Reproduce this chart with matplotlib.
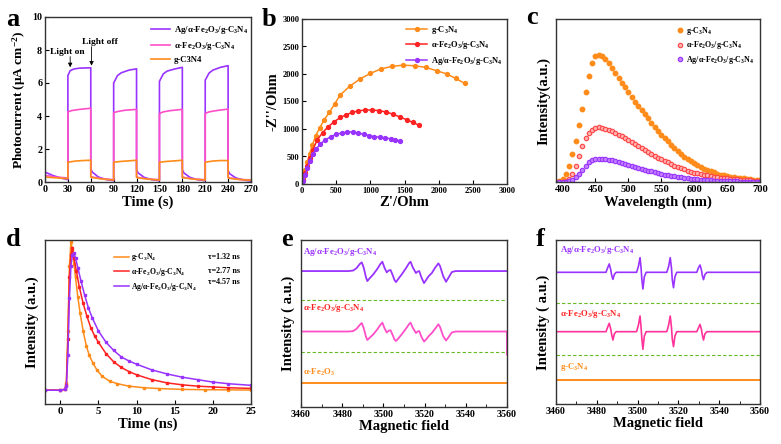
import matplotlib
matplotlib.use("Agg")
import matplotlib.pyplot as plt
from matplotlib.ticker import MultipleLocator

plt.rcParams['font.family'] = ['Liberation Serif', 'DejaVu Serif']
plt.rcParams['font.weight'] = 'bold'
plt.rcParams['axes.labelweight'] = 'bold'
plt.rcParams['mathtext.default'] = 'regular'
plt.rcParams['axes.linewidth'] = 1.0
plt.rcParams['axes.edgecolor'] = '#333333'

# ---------------- data ----------------
# (a) photocurrent
t_ag = [0, 10, 20, 30, 30, 33, 38, 45, 60, 60, 62, 70, 80, 90, 90, 95, 100, 110, 120, 120, 122, 130, 140, 150,
        150, 155, 160, 170, 180, 180, 182, 190, 200, 210, 210, 215, 220, 230, 240, 240, 242, 250, 260, 270]
i_ag = [0.6, 0.4, 0.25, 0.14, 6.45, 6.75, 6.85, 6.9, 6.92, 0.8, 0.6, 0.3, 0.15, 0.08, 6.0, 6.45, 6.62, 6.78, 6.86,
        0.75, 0.55, 0.28, 0.14, 0.08, 6.1, 6.55, 6.72, 6.85, 6.95, 0.75, 0.55, 0.28, 0.14, 0.08, 6.17, 6.6, 6.78,
        6.95, 7.05, 0.7, 0.5, 0.25, 0.12, 0.05]
t_fe = [0, 15, 30, 30, 35, 45, 60, 60, 62, 75, 90, 90, 95, 105, 120, 120, 122, 135, 150, 150, 155, 165, 180,
        180, 182, 195, 210, 210, 215, 225, 240, 240, 242, 255, 270]
i_fe = [0.4, 0.3, 0.24, 4.25, 4.33, 4.4, 4.47, 0.35, 0.3, 0.2, 0.14, 4.2, 4.27, 4.35, 4.4, 0.32, 0.28, 0.18, 0.14,
        4.15, 4.25, 4.33, 4.4, 0.32, 0.28, 0.18, 0.14, 4.15, 4.25, 4.33, 4.42, 0.3, 0.25, 0.16, 0.12]
t_gcn = [0, 15, 30, 30, 40, 50, 60, 60, 62, 75, 90, 90, 100, 110, 120, 120, 122, 135, 150, 150, 160, 170, 180,
         180, 182, 195, 210, 210, 220, 230, 240, 240, 242, 255, 270]
i_gcn = [0.3, 0.25, 0.2, 1.2, 1.27, 1.3, 1.32, 0.3, 0.27, 0.18, 0.12, 1.2, 1.25, 1.28, 1.32, 0.28, 0.25, 0.17,
         0.12, 1.2, 1.25, 1.28, 1.32, 0.28, 0.25, 0.17, 0.12, 1.2, 1.27, 1.3, 1.3, 0.25, 0.22, 0.15, 0.1]

# (b) Nyquist
zr_gcn = [0, 20, 50, 80, 110, 150, 200, 260, 320, 400, 480, 560, 700, 850, 1000, 1150, 1320, 1480, 1650, 1810,
          1970, 2120, 2250, 2380]
zi_gcn = [0, 100, 250, 400, 550, 700, 880, 1020, 1160, 1300, 1460, 1620, 1780, 1910, 2010, 2090, 2140, 2160, 2150,
          2120, 2060, 2000, 1920, 1830]
zr_fe = [0, 20, 50, 80, 120, 160, 220, 300, 380, 470, 560, 650, 730, 820, 920, 1020, 1120, 1230, 1330, 1430, 1530,
         1620, 1710]
zi_fe = [0, 80, 200, 330, 480, 620, 800, 930, 1040, 1130, 1210, 1260, 1300, 1330, 1345, 1345, 1335, 1310, 1270,
         1220, 1170, 1120, 1070]
zr_ag = [0, 20, 50, 80, 120, 160, 210, 270, 340, 420, 500, 580, 660, 740, 820, 900, 980, 1060, 1140, 1220, 1300,
         1360, 1430]
zi_ag = [0, 60, 170, 290, 420, 540, 640, 730, 800, 860, 900, 930, 945, 945, 930, 905, 880, 860, 850, 840, 820,
         800, 785]

# (c) PL spectra
wl = [395, 400, 405, 410, 415, 420, 425, 430, 435, 440, 445, 450, 455, 460, 465, 470, 475, 480, 485, 490, 495,
      500, 505, 510, 515, 520, 525, 530, 535, 540, 545, 550, 555, 560, 565, 570, 575, 580, 585, 590, 595, 600,
      605, 610, 615, 620, 625, 630, 635, 640, 645, 650, 655, 660, 665, 670, 675, 680, 685, 690, 695, 700]
pl_gcn = [0.005, 0.02, 0.05, 0.10, 0.17, 0.25, 0.35, 0.45, 0.55, 0.65, 0.73, 0.77, 0.78, 0.775, 0.755, 0.73,
          0.70, 0.67, 0.64, 0.61, 0.58, 0.55, 0.52, 0.49, 0.465, 0.44, 0.415, 0.39, 0.365, 0.34, 0.315, 0.29,
          0.27, 0.25, 0.23, 0.21, 0.19, 0.17, 0.155, 0.14, 0.127, 0.115, 0.102, 0.09, 0.082, 0.075, 0.067, 0.06,
          0.052, 0.045, 0.04, 0.035, 0.032, 0.03, 0.027, 0.025, 0.022, 0.02, 0.018, 0.015, 0.013, 0.012]
pl_fe = [0.0, 0.0, 0.005, 0.02, 0.05, 0.10, 0.16, 0.22, 0.27, 0.30, 0.32, 0.33, 0.335, 0.333, 0.327, 0.32,
         0.31, 0.30, 0.29, 0.28, 0.27, 0.26, 0.248, 0.235, 0.222, 0.21, 0.197, 0.185, 0.172, 0.16, 0.15, 0.14,
         0.13, 0.12, 0.11, 0.10, 0.092, 0.085, 0.077, 0.07, 0.064, 0.058, 0.053, 0.048, 0.044, 0.04, 0.036,
         0.033, 0.03, 0.027, 0.024, 0.022, 0.02, 0.018, 0.016, 0.014, 0.012, 0.011, 0.01, 0.009, 0.008, 0.007]
pl_ag = [0.0, 0.0, 0.0, 0.005, 0.015, 0.03, 0.05, 0.075, 0.10, 0.12, 0.133, 0.14, 0.143, 0.143, 0.141, 0.138,
         0.133, 0.128, 0.122, 0.117, 0.111, 0.105, 0.099, 0.093, 0.087, 0.082, 0.076, 0.07, 0.065, 0.06, 0.055,
         0.05, 0.046, 0.042, 0.038, 0.035, 0.031, 0.028, 0.025, 0.022, 0.02, 0.018, 0.016, 0.014, 0.012, 0.011,
         0.01, 0.009, 0.008, 0.007, 0.006, 0.005, 0.005, 0.004, 0.004, 0.003, 0.003, 0.002, 0.002, 0.002,
         0.001, 0.001]

# (d) TRPL decay
td_gcn = [-2, 0, 0.6, 0.8, 1.0, 1.2, 1.4, 1.6, 1.8, 2.0, 2.3, 2.6, 3.0, 3.4, 3.8, 4.3, 4.8, 5.5, 6.5, 7.5, 9, 11,
          13, 16, 19, 22, 25]
id_gcn = [0.085, 0.085, 0.09, 0.13, 0.45, 0.85, 1.0, 0.95, 0.86, 0.78, 0.66, 0.56, 0.45, 0.36, 0.3, 0.25, 0.21,
          0.17, 0.14, 0.125, 0.11, 0.1, 0.095, 0.09, 0.088, 0.087, 0.086]
td_fe = [-2, 0, 0.6, 0.8, 1.0, 1.2, 1.4, 1.6, 1.8, 2.1, 2.5, 3, 3.5, 4, 4.5, 5, 6, 7, 8, 9, 10, 12, 14, 16, 18,
         20, 22, 25]
id_fe = [0.085, 0.085, 0.09, 0.12, 0.4, 0.78, 0.92, 0.96, 0.9, 0.82, 0.72, 0.62, 0.54, 0.47, 0.42, 0.38, 0.31,
         0.26, 0.225, 0.2, 0.18, 0.15, 0.13, 0.118, 0.11, 0.105, 0.1, 0.096]
td_ag = [-2, 0, 0.6, 0.8, 1.0, 1.2, 1.4, 1.6, 1.8, 2.0, 2.3, 2.7, 3.2, 3.7, 4.2, 5, 6, 7, 8, 9, 10, 12, 14, 16,
         18, 20, 22, 25]
id_ag = [0.085, 0.085, 0.09, 0.11, 0.3, 0.65, 0.85, 0.92, 0.93, 0.9, 0.84, 0.76, 0.67, 0.59, 0.53, 0.45, 0.38,
         0.33, 0.29, 0.265, 0.245, 0.21, 0.185, 0.165, 0.15, 0.135, 0.125, 0.115]
taus = ['τ=1.32 ns', 'τ=2.77 ns', 'τ=4.57 ns']

# (e) EPR (DMPO-O2-)
be_ag = [3460, 3483, 3485.3, 3487, 3488.5, 3489.5, 3490.5, 3491.5, 3492.2, 3493.2, 3495, 3497, 3498.5, 3499.5,
         3500.5, 3501.6, 3502.5, 3503.5, 3504.5, 3505.4, 3506.1, 3507, 3509, 3511, 3512.5, 3513.2, 3514.2,
         3515.8, 3516.6, 3517.4, 3518.4, 3519.7, 3520.7, 3522, 3523.5, 3525, 3526.7, 3527.5, 3529, 3530.4,
         3531.5, 3533.2, 3535, 3560]
se_ag = [0, 0, 0.05, 0.3, 0.7, 0.87, 0.3, -0.6, -1.0, -0.75, -0.35, 0.2, 0.7, 0.93, 0.35, -0.13, 0.05, 0.1,
         -0.4, -0.9, -1.1, -0.85, -0.3, 0.3, 0.8, 0.93, 0.4, -0.2, -0.05, 0.0, -0.6, -1.2, -0.9, -0.5, -0.2, 0.3,
         0.77, 0.5, -0.5, -1.07, -0.7, -0.1, 0, 0]
be_fe = [3460, 3483, 3485.3, 3487, 3488.5, 3489.5, 3490.5, 3491.5, 3492.2, 3493.2, 3495, 3497, 3498.5, 3499.5,
         3500.5, 3501.6, 3502.5, 3503.5, 3504.5, 3505.4, 3506.1, 3507, 3509, 3511, 3512.5, 3513.2, 3514.2,
         3515.8, 3516.6, 3517.4, 3518.4, 3519.7, 3520.7, 3522, 3523.5, 3525, 3526.7, 3527.5, 3529, 3530.4,
         3531.5, 3533.2, 3535, 3559.8, 3560, 3560]
se_fe = [0, 0, 0.04, 0.28, 0.65, 0.85, 0.3, -0.5, -0.85, -0.65, -0.3, 0.2, 0.65, 0.88, 0.35, -0.1, 0.08, 0.12,
         -0.35, -0.8, -0.95, -0.75, -0.25, 0.3, 0.75, 0.88, 0.4, -0.15, 0.0, 0.05, -0.5, -1.0, -0.8, -0.45, -0.15,
         0.25, 0.72, 0.45, -0.45, -0.9, -0.6, -0.1, 0, 0, 0, -2.3]
be_fe2o3 = [3460, 3560]
se_fe2o3 = [0, 0]

# (f) EPR (DMPO-OH)
bf_ag = [3460, 3484.5, 3485.3, 3486.1, 3486.8, 3487.3, 3487.9, 3488.6, 3489.5, 3499.5, 3500.4, 3501.2, 3501.7,
         3502.1, 3502.6, 3503.3, 3504.2, 3514.3, 3515.2, 3516.0, 3516.6, 3517.0, 3517.6, 3518.3, 3519.2, 3529,
         3529.8, 3530.6, 3531.3, 3531.7, 3532.3, 3533, 3534, 3560]
sf_ag = [0, 0, 0.3, 0.57, 0.2, -0.2, -0.48, -0.15, 0, 0, 0.4, 1.0, 0.3, -0.5, -1.14, -0.3, 0, 0, 0.4, 1.0, 0.3,
         -0.5, -1.05, -0.3, 0, 0, 0.3, 0.5, 0.15, -0.2, -0.5, -0.15, 0, 0]
bf_fe = bf_ag
sf_fe = [0, 0, 0.3, 0.57, 0.2, -0.2, -0.57, -0.15, 0, 0, 0.45, 1.07, 0.3, -0.5, -1.2, -0.3, 0, 0, 0.45, 1.07,
         0.3, -0.5, -1.02, -0.3, 0, 0, 0.25, 0.5, 0.15, -0.2, -0.57, -0.15, 0, 0]
bf_gcn = [3460, 3560]
sf_gcn = [0, 0]

lab_ag = 'Ag/α-Fe$_2$O$_3$/g-C$_3$N$_4$'
lab_fe = 'α-Fe$_2$O$_3$/g-C$_3$N$_4$'
lab_gcn = 'g-C$_3$N$_4$'
lab_fe2o3 = 'α-Fe$_2$O$_3$'

# ---------------- style ----------------
PURPLE = '#9933FF'
PINK = '#FF4FC8'
ORANGE = '#FF8C1A'
RED = '#FF2222'
GREEN = '#66BB22'

W, H = 781, 444
fig = plt.figure(figsize=(W / 100, H / 100), dpi=100)


def pos(l, t, r, b):
    return [l / W, 1 - b / H, (r - l) / W, (b - t) / H]


def style(ax, fs=7.5):
    ax.tick_params(direction='in', labelsize=fs, width=0.8, length=3, pad=2)
    for lab in ax.get_xticklabels() + ax.get_yticklabels():
        lab.set_fontweight('bold')


def plabel(x, y, s):
    fig.text(x / W, 1 - y / H, s, fontsize=19, fontweight='bold', va='baseline', ha='left')


LFS = 10.5
ARW = dict(arrowstyle='-|>', color='black', lw=0.6, mutation_scale=6, shrinkA=0, shrinkB=0)

# (a)
ax = fig.add_axes(pos(45, 17, 251, 182))
ax.plot(t_ag, i_ag, color=PURPLE, lw=1.2, label=lab_ag)
ax.plot(t_fe, i_fe, color=PINK, lw=1.2, label=lab_fe)
ax.plot(t_gcn, i_gcn, color=ORANGE, lw=1.2, label='g-C3N4')
ax.set_xlim(0, 270)
ax.set_ylim(0, 10)
ax.set_xticks(range(0, 271, 30))
ax.set_yticks(range(0, 11, 2))
ax.set_xlabel('Time (s)', fontsize=LFS, labelpad=1)
ax.set_ylabel('Photocurrent (μA cm$^{-2}$)', fontsize=9.6, labelpad=3)
ax.legend(loc='upper right', bbox_to_anchor=(1.02, 1.0), frameon=False, fontsize=6.3, handlelength=2.2,
          handletextpad=0.4, labelspacing=0.45, borderaxespad=0.4)
ax.text(7, 7.9, 'Light on', fontsize=6.8, fontweight='bold', ha='left', va='center')
ax.annotate('', xy=(33, 6.95), xytext=(33, 7.6), arrowprops=ARW)
ax.text(48, 8.5, 'Light off', fontsize=6.8, fontweight='bold', ha='left', va='center')
ax.annotate('', xy=(61, 7.05), xytext=(61, 8.2), arrowprops=ARW)
style(ax, 7.2)
plabel(6, 26, 'a')

# (b)
ax = fig.add_axes(pos(302, 19, 507, 184))
ax.plot(zr_gcn, zi_gcn, '-o', color=ORANGE, lw=1.1, ms=2.8, label=lab_gcn)
ax.plot(zr_fe, zi_fe, '-o', color=RED, lw=1.1, ms=2.8, label=lab_fe)
ax.plot(zr_ag, zi_ag, '-o', color=PURPLE, lw=1.1, ms=2.8, label=lab_ag)
ax.set_xlim(0, 3000)
ax.set_ylim(0, 3000)
ax.set_xticks(range(0, 3001, 500))
ax.set_yticks(range(0, 3001, 500))
ax.set_xlabel("Z'/Ohm", fontsize=LFS, labelpad=1)
ax.set_ylabel("-Z''/Ohm", fontsize=LFS, labelpad=2)
ax.legend(loc='upper right', bbox_to_anchor=(1.0, 1.0), frameon=False, fontsize=6.0, handlelength=2.6,
          handletextpad=0.4, labelspacing=0.4, borderaxespad=0.2)
style(ax, 6.0)
plabel(262, 26, 'b')

# (c)
ax = fig.add_axes(pos(556, 19, 760, 182))
ax.plot(wl, pl_gcn, 'o', color=ORANGE, ms=3.2, mec=ORANGE, mfc=ORANGE, label=lab_gcn)
ax.plot(wl, pl_fe, 'o', color=RED, ms=3.2, mec='#FF4444', mfc='#FFB0B0', mew=0.8, label=lab_fe)
ax.plot(wl, pl_ag, 'o', color=PURPLE, ms=3.2, mec=PURPLE, mfc='#C080FF', mew=0.8, label=lab_ag)
ax.set_xlim(390, 700)
ax.set_ylim(0, 1)
ax.set_xticks(range(400, 701, 50))
ax.set_yticks([])
ax.set_xlabel('Wavelength (nm)', fontsize=LFS, labelpad=1)
ax.set_ylabel('Intensity(a.u.)', fontsize=LFS, labelpad=4)
ax.legend(loc='upper right', bbox_to_anchor=(1.0, 1.0), frameon=False, fontsize=5.8, handlelength=1.0,
          handletextpad=0.3, labelspacing=0.35, borderaxespad=0.3, markerscale=1.0)
style(ax, 7.6)
plabel(526, 24, 'c')

# (d)
ax = fig.add_axes(pos(45, 240, 251, 404))
ax.plot(td_gcn, id_gcn, '-', color=ORANGE, lw=1.1, marker='s', ms=1.6, label=lab_gcn)
ax.plot(td_fe, id_fe, '-', color=RED, lw=1.1, marker='s', ms=1.6, label=lab_fe)
ax.plot(td_ag, id_ag, '-', color=PURPLE, lw=1.1, marker='s', ms=1.6, label=lab_ag)
ax.set_xlim(-2, 25)
ax.set_ylim(0, 1.01)
ax.set_xticks(range(0, 26, 5))
ax.set_yticks([])
ax.set_xlabel('Time (ns)', fontsize=LFS, labelpad=1)
ax.set_ylabel('Intensity (a.u.)', fontsize=LFS, labelpad=4)
leg = ax.legend(loc='upper left', bbox_to_anchor=(0.31, 0.96), frameon=False, fontsize=5.6, handlelength=2.0,
                handletextpad=0.3, labelspacing=0.35, borderaxespad=0.2, markerscale=0)
for txt, yy in zip(taus, [0.896, 0.81, 0.744]):
    ax.text(0.79, yy, txt, transform=ax.transAxes, fontsize=5.8, fontweight='bold', va='center')
style(ax, 7.8)
plabel(6, 246, 'd')

# (e)
ax = fig.add_axes(pos(301, 240, 507, 407))
sc_e = 0.06
ax.plot(be_ag, [0.814 + sc_e * v for v in se_ag], color=PURPLE, lw=1.3)
ax.plot(be_fe, [0.452 + sc_e * v for v in se_fe], color=PINK, lw=1.3)
ax.plot(be_fe2o3, [0.143 + v for v in se_fe2o3], color=ORANGE, lw=1.4)
ax.axhline(0.641, color=GREEN, lw=0.8, ls=(0, (3, 2)))
ax.axhline(0.329, color=GREEN, lw=0.8, ls=(0, (3, 2)))
ax.text(0.01, 0.926, lab_ag, transform=ax.transAxes, color=PURPLE, fontsize=6.3, fontweight='bold', va='center')
ax.text(0.01, 0.59, lab_fe, transform=ax.transAxes, color=RED, fontsize=6.3, fontweight='bold', va='center')
ax.text(0.01, 0.207, lab_fe2o3, transform=ax.transAxes, color=ORANGE, fontsize=6.3, fontweight='bold',
        va='center')
ax.set_xlim(3460, 3560)
ax.set_ylim(0, 1)
ax.set_xticks(range(3460, 3561, 20))
ax.xaxis.set_minor_locator(MultipleLocator(10))
ax.tick_params(which='minor', direction='in', length=2, width=0.6)
ax.set_yticks([])
ax.set_xlabel('Magnetic field', fontsize=LFS, labelpad=1)
ax.set_ylabel('Intensity ( a.u.)', fontsize=LFS, labelpad=4)
style(ax, 7.2)
plabel(281, 246, 'e')

# (f)
ax = fig.add_axes(pos(556, 240, 760, 404))
sc_f = 0.0894
ax.plot(bf_ag, [0.803 + sc_f * v for v in sf_ag], color=PURPLE, lw=1.2)
ax.plot(bf_fe, [0.441 + sc_f * v for v in sf_fe], color='#FF3399', lw=1.2)
ax.plot(bf_gcn, [0.146 + v for v in sf_gcn], color=ORANGE, lw=1.4)
ax.axhline(0.614, color=GREEN, lw=0.8, ls=(0, (3, 2)))
ax.axhline(0.299, color=GREEN, lw=0.8, ls=(0, (3, 2)))
ax.text(0.02, 0.939, lab_ag, transform=ax.transAxes, color=PURPLE, fontsize=6.3, fontweight='bold', va='center')
ax.text(0.02, 0.549, lab_fe, transform=ax.transAxes, color=RED, fontsize=6.3, fontweight='bold', va='center')
ax.text(0.02, 0.228, lab_gcn, transform=ax.transAxes, color=ORANGE, fontsize=6.3, fontweight='bold',
        va='center')
ax.set_xlim(3460, 3560)
ax.set_ylim(0, 1)
ax.set_xticks(range(3460, 3561, 20))
ax.xaxis.set_minor_locator(MultipleLocator(10))
ax.tick_params(which='minor', direction='in', length=2, width=0.6)
ax.set_yticks([])
ax.set_xlabel('Magnetic field', fontsize=LFS, labelpad=1)
ax.set_ylabel('Intensity ( a.u.)', fontsize=LFS, labelpad=4)
style(ax, 7.2)
plabel(536, 246, 'f')

fig.savefig('out.png', dpi=100)
